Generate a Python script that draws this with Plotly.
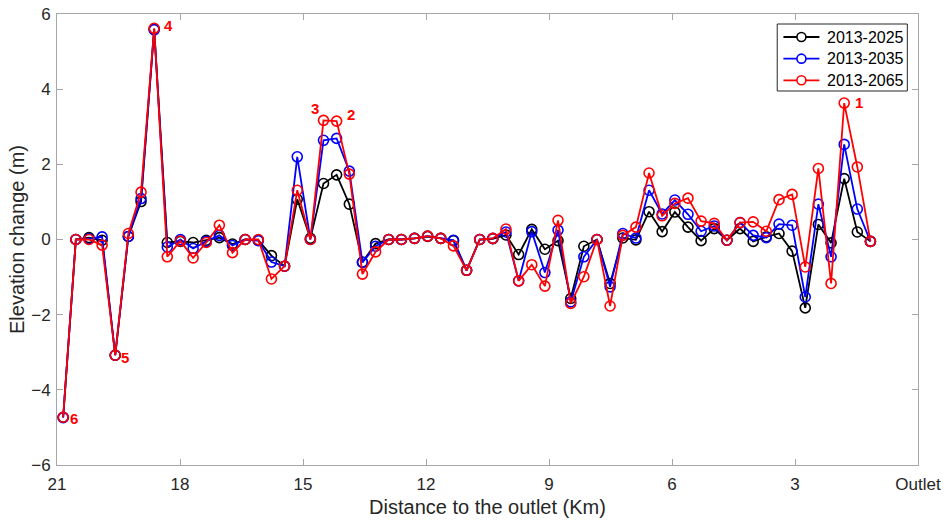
import plotly.graph_objects as go

distance_km = [20.85, 20.54, 20.22, 19.90, 19.58, 19.26, 18.95, 18.63, 18.31, 17.99,
               17.68, 17.36, 17.04, 16.72, 16.41, 16.09, 15.77, 15.45, 15.14, 14.82,
               14.50, 14.18, 13.87, 13.55, 13.23, 12.91, 12.60, 12.28, 11.96, 11.64,
               11.33, 11.01, 10.69, 10.37, 10.05, 9.74, 9.42, 9.10, 8.78, 8.47,
               8.15, 7.83, 7.51, 7.20, 6.88, 6.56, 6.24, 5.93, 5.61, 5.29,
               4.97, 4.66, 4.34, 4.02, 3.70, 3.39, 3.07, 2.75, 2.43, 2.12,
               1.80, 1.48, 1.16]

change_2025 = [-4.73, 0.0, 0.05, -0.02, -3.08, 0.08, 1.01, 5.60, -0.08, -0.05,
               -0.08, -0.02, 0.05, -0.12, 0.0, -0.02, -0.43, -0.71, 1.07, 0.03,
               1.49, 1.72, 0.94, -0.60, -0.11, 0.0, 0.0, 0.03, 0.08, 0.03,
               -0.03, -0.82, 0.0, 0.02, 0.12, -0.40, 0.27, -0.26, -0.03, -1.57,
               -0.18, 0.0, -1.17, 0.04, -0.01, 0.74, 0.21, 0.73, 0.33, -0.03,
               0.29, -0.02, 0.29, -0.05, 0.07, 0.16, -0.31, -1.82, 0.40, -0.09,
               1.62, 0.20, -0.05]

change_2035 = [-4.74, 0.0, 0.02, 0.07, -3.08, 0.08, 1.09, 5.58, -0.20, 0.0,
               -0.24, -0.05, 0.11, -0.16, 0.0, -0.03, -0.60, -0.71, 2.20, 0.0,
               2.64, 2.69, 1.82, -0.61, -0.18, 0.0, 0.0, 0.03, 0.09, 0.03,
               -0.02, -0.82, 0.0, 0.03, 0.20, -1.10, 0.21, -0.88, 0.25, -1.66,
               -0.46, 0.0, -1.26, 0.16, 0.04, 1.31, 0.68, 1.05, 0.67, 0.22,
               0.36, -0.02, 0.45, 0.11, 0.05, 0.41, 0.38, -1.53, 0.94, -0.46,
               2.53, 0.81, -0.05]

change_2065 = [-4.73, 0.0, 0.0, -0.15, -3.08, 0.16, 1.26, 5.62, -0.46, -0.04,
               -0.49, -0.08, 0.38, -0.35, 0.0, 0.0, -1.05, -0.71, 1.31, 0.0,
               3.17, 3.15, 1.74, -0.92, -0.33, 0.0, 0.0, 0.03, 0.09, 0.03,
               -0.17, -0.82, 0.0, 0.03, 0.28, -1.10, -0.67, -1.24, 0.51, -1.70,
               -0.99, 0.0, -1.77, 0.11, 0.33, 1.77, 0.63, 0.96, 1.10, 0.49,
               0.43, -0.02, 0.45, 0.47, 0.22, 1.06, 1.20, -0.73, 1.89, -1.17,
               3.63, 1.93, -0.05]

series_names = ["2013-2025", "2013-2035", "2013-2065"]
series_colors = ["#000000", "#0000ff", "#ff0000"]

tick_vals = [21, 18, 15, 12, 9, 6, 3, 0]
tick_text = ["21", "18", "15", "12", "9", "6", "3", "Outlet"]
y_tick_vals = [-6, -4, -2, 0, 2, 4, 6]

# labelled points
label_text = ["1", "2", "3", "4", "5", "6"]
label_index = [60, 21, 20, 7, 4, 0]          # index into the 2013-2065 series
label_dx = [15, 14, -9, 14, 10, 11]
label_dy = [1, 7, 12, 3, -2, -1]

TXT = "#262626"
AX = "#a6a6a6"
FONT = "Liberation Sans, Arial, sans-serif"

fig = go.Figure()
for name, color, vals in zip(series_names, series_colors,
                             [change_2025, change_2035, change_2065]):
    fig.add_trace(go.Scatter(
        x=distance_km, y=vals, name=name, mode="lines+markers",
        line=dict(color=color, width=1.8),
        marker=dict(symbol="circle-open", size=10, color=color,
                    line=dict(width=1.6, color=color)),
        showlegend=False,
    ))

for t, i, dx, dy in zip(label_text, label_index, label_dx, label_dy):
    fig.add_annotation(x=distance_km[i], y=change_2065[i], text="<b>%s</b>" % t,
                       showarrow=False, xshift=dx, yshift=dy,
                       font=dict(family=FONT, size=15, color="#ff0000"))

# legend box drawn in paper coordinates (top-right, inside the axes)
leg_x0, leg_x1, leg_y0, leg_y1 = 0.8365, 0.9876, 0.8293, 0.9778
leg_rows = [0.949, 0.901, 0.853]
leg_line = (0.8437, 0.8855)
leg_text_x = 0.8915
shapes = [dict(type="rect", xref="paper", yref="paper", x0=leg_x0, x1=leg_x1,
               y0=leg_y0, y1=leg_y1, line=dict(color=TXT, width=1),
               fillcolor="white", layer="above")]
for name, color, yy in zip(series_names, series_colors, leg_rows):
    shapes.append(dict(type="line", xref="paper", yref="paper", x0=leg_line[0],
                       x1=leg_line[1], y0=yy, y1=yy, line=dict(color=color, width=1.8),
                       layer="above"))
    shapes.append(dict(type="circle", xref="paper", yref="paper",
                       xsizemode="pixel", ysizemode="pixel",
                       xanchor=(leg_line[0] + leg_line[1]) / 2, yanchor=yy,
                       x0=-4.5, x1=4.5, y0=-4.5, y1=4.5,
                       line=dict(color=color, width=1.6), fillcolor="white",
                       layer="above"))
    fig.add_annotation(xref="paper", yref="paper", x=leg_text_x, y=yy, text=name,
                       showarrow=False, xanchor="left", yanchor="middle",
                       font=dict(family=FONT, size=16, color="#000000"))

axis_common = dict(
    showline=True, linecolor=AX, linewidth=1, mirror="ticks",
    ticks="inside", ticklen=6, tickcolor=AX, showgrid=False, zeroline=False,
    automargin=False,
    tickfont=dict(family=FONT, size=17, color=TXT),
)

fig.update_layout(
    width=946, height=522,
    margin=dict(l=57, r=28, t=14, b=57),
    paper_bgcolor="white", plot_bgcolor="white",
    font=dict(family=FONT, color=TXT),
    shapes=shapes,
    xaxis=dict(range=[21, 0], tickvals=tick_vals, ticktext=tick_text,
               ticklabelstandoff=4,
               title=dict(text="Distance to the outlet (Km)", standoff=6,
                          font=dict(family=FONT, size=20, color=TXT)),
               **axis_common),
    yaxis=dict(range=[-6, 6], tickvals=y_tick_vals,
               ticklabelstandoff=2,
               title=dict(text="Elevation change (m)", standoff=1,
                          font=dict(family=FONT, size=20, color=TXT)),
               **axis_common),
    showlegend=False,
)

fig.write_html("out.html", config={"displayModeBar": False},
               post_script="document.body.style.margin='0px';")
